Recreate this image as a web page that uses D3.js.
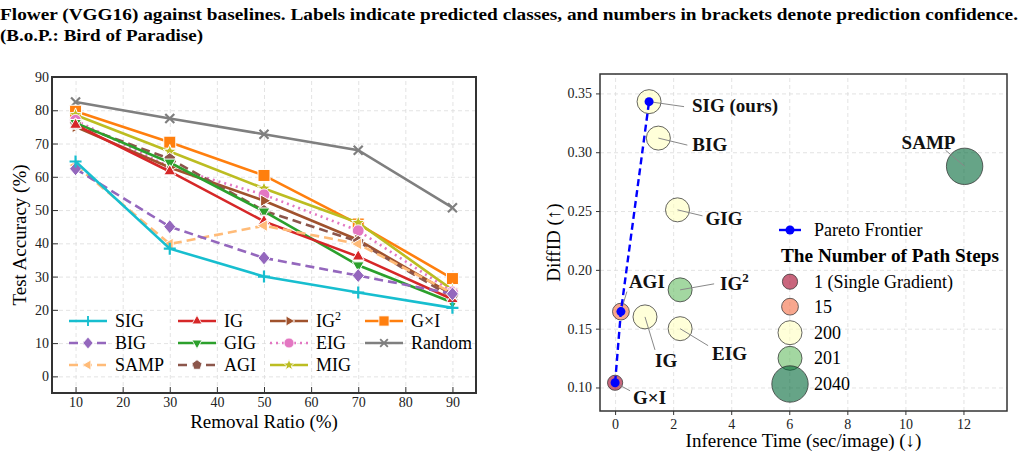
<!DOCTYPE html>
<html>
<head>
<meta charset="utf-8">
<script src="https://cdn.jsdelivr.net/npm/d3@7"></script>
<style>
  body { margin: 0; background: #fff; }
  svg { display: block; font-family: "Liberation Serif", "DejaVu Serif", serif; }
  .grid line { stroke: #dcdcdc; stroke-dasharray: 4,3; stroke-width: 0.8; }
  .grid .domain { display: none; }
  .axis text { font-size: 14px; fill: #222; font-family: "Liberation Serif", serif; }
  .axis .domain { display: none; }
  .axis line { stroke: #333; }
</style>
</head>
<body>
<svg width="1024" height="462"></svg>
<script>
// ---------------- data: left panel (removal ratio vs test accuracy) ----------------
var ratios = [10, 30, 50, 70, 90];
var methods = ["SIG", "BIG", "SAMP", "IG", "GIG", "AGI", "IG²", "EIG", "MIG", "G×I", "Random"];
var accSIG    = [64.6, 38.4, 30.0, 25.2, 20.6];
var accBIG    = [62.4, 45.0, 35.6, 30.3, 24.8];
var accSAMP   = [63.5, 39.8, 45.3, 39.8, 25.0];
var accIG     = [75.6, 61.6, 46.6, 36.0, 23.2];
var accGIG    = [76.2, 64.3, 49.6, 33.4, 22.2];
var accAGI    = [75.8, 65.4, 49.8, 40.5, 23.8];
var accIG2    = [75.0, 62.8, 52.8, 41.0, 24.6];
var accEIG    = [77.0, 62.9, 54.6, 43.8, 25.4];
var accMIG    = [78.6, 67.6, 56.5, 46.2, 26.0];
var accGxI    = [79.7, 70.4, 60.4, 45.8, 29.4];
var accRandom = [82.5, 77.5, 72.8, 68.0, 50.7];
var leftYTicks = [0, 10, 20, 30, 40, 50, 60, 70, 80, 90];
var leftXTicks = [10, 20, 30, 40, 50, 60, 70, 80, 90];

// ---------------- data: right panel (inference time vs DiffID) ----------------
var pointNames = ["SIG (ours)", "BIG", "GIG", "SAMP", "IG²", "AGI", "IG", "EIG", "G×I"];
var inferTime  = [1.17, 1.49, 2.15, 12.04, 2.24, 0.20, 1.03, 2.24, 0.00];
var diffID     = [0.343, 0.312, 0.251, 0.288, 0.183, 0.1645, 0.160, 0.150, 0.104];
var pathSteps  = [200, 200, 200, 2040, 201, 15, 200, 200, 1];
var paretoNames = ["G×I", "AGI", "SIG (ours)"];
var stepLevels = [1, 15, 200, 201, 2040];
var stepLabels = ["1 (Single Gradient)", "15", "200", "201", "2040"];
var rightXTicks = [0, 2, 4, 6, 8, 10, 12];
var rightYTicks = [0.10, 0.15, 0.20, 0.25, 0.30, 0.35];

var svg = d3.select("svg");

// ---------------- caption ----------------
svg.append("text").attr("x", 0).attr("y", 20)
    .attr("font-weight", "bold").attr("font-size", 17)
    .attr("textLength", 1018).attr("lengthAdjust", "spacingAndGlyphs")
    .text("Flower (VGG16) against baselines. Labels indicate predicted classes, and numbers in brackets denote prediction confidence.");
svg.append("text").attr("x", 0).attr("y", 41)
    .attr("font-weight", "bold").attr("font-size", 17)
    .attr("textLength", 203).attr("lengthAdjust", "spacingAndGlyphs")
    .text("(B.o.P.: Bird of Paradise)");

// ---------------- left panel ----------------
var L = {left: 52, top: 77, right: 476, bottom: 393};
var xL = d3.scaleLinear().domain([5, 95]).range([L.left, L.right]);
var yL = d3.scaleLinear().domain([-5, 90]).range([L.bottom, L.top]);
var gL = svg.append("g");

gL.append("g").attr("class", "grid")
    .attr("transform", "translate(0," + L.bottom + ")")
    .call(d3.axisBottom(xL).tickValues(leftXTicks).tickSize(-(L.bottom - L.top)).tickFormat(""));
gL.append("g").attr("class", "grid")
    .attr("transform", "translate(" + L.left + ",0)")
    .call(d3.axisLeft(yL).tickValues(leftYTicks).tickSize(-(L.right - L.left)).tickFormat(""));

// marker shapes
function polyPath(n, r, rot) {
  var pts = [];
  for (var i = 0; i < n; i++) {
    var a = rot + i * 2 * Math.PI / n;
    pts.push([r * Math.cos(a), r * Math.sin(a)]);
  }
  return "M" + pts.map(function (p) { return p[0].toFixed(2) + "," + p[1].toFixed(2); }).join("L") + "Z";
}
function triPath(dir, r) {
  var base = {up: -Math.PI / 2, down: Math.PI / 2, left: Math.PI, right: 0}[dir];
  return polyPath(3, r, base);
}
function starPath(r) {
  var pts = [];
  for (var i = 0; i < 10; i++) {
    var a = -Math.PI / 2 + i * Math.PI / 5, rr = i % 2 ? r * 0.42 : r;
    pts.push([rr * Math.cos(a), rr * Math.sin(a)]);
  }
  return "M" + pts.map(function (p) { return p[0].toFixed(2) + "," + p[1].toFixed(2); }).join("L") + "Z";
}

var styles = {
  "SIG":    {color: "#17becf", dash: null,    marker: "plus"},
  "BIG":    {color: "#9467bd", dash: "9,5",   marker: "diamond"},
  "SAMP":   {color: "#ffbb78", dash: "9,5",   marker: "tleft"},
  "IG":     {color: "#d62728", dash: null,    marker: "tup"},
  "GIG":    {color: "#2ca02c", dash: null,    marker: "tdown"},
  "AGI":    {color: "#8c564b", dash: "9,5",   marker: "pent"},
  "IG²":    {color: "#a0522d", dash: null,    marker: "tright"},
  "EIG":    {color: "#e377c2", dash: "2,4",   marker: "circle"},
  "MIG":    {color: "#bcbd22", dash: null,    marker: "star"},
  "G×I":    {color: "#ff7f0e", dash: null,    marker: "square"},
  "Random": {color: "#7f7f7f", dash: null,    marker: "x"}
};
var seriesVals = {
  "SIG": accSIG, "BIG": accBIG, "SAMP": accSAMP, "IG": accIG, "GIG": accGIG, "AGI": accAGI,
  "IG²": accIG2, "EIG": accEIG, "MIG": accMIG, "G×I": accGxI, "Random": accRandom
};

function drawMarker(g, kind, color, scale) {
  var s = scale || 1;
  if (kind === "plus") {
    g.append("path").attr("d", "M-6,0H6M0,-6V6").attr("transform", "scale(" + s + ")")
        .attr("stroke", color).attr("stroke-width", 2.2).attr("fill", "none");
  } else if (kind === "x") {
    g.append("path").attr("d", "M-4.5,-4.5L4.5,4.5M-4.5,4.5L4.5,-4.5").attr("transform", "scale(" + s + ")")
        .attr("stroke", color).attr("stroke-width", 2.2).attr("fill", "none");
  } else {
    var d;
    if (kind === "diamond") d = "M0,-7L6,0L0,7L-6,0Z";
    else if (kind === "square") d = "M-6,-6H6V6H-6Z";
    else if (kind === "circle") d = polyPath(40, 5.8, 0);
    else if (kind === "pent") d = polyPath(5, 6.2, -Math.PI / 2);
    else if (kind === "star") d = starPath(7);
    else if (kind === "tup") d = triPath("up", 6.8);
    else if (kind === "tdown") d = triPath("down", 6.8);
    else if (kind === "tleft") d = triPath("left", 6.8);
    else if (kind === "tright") d = triPath("right", 6.8);
    g.append("path").attr("d", d).attr("transform", "scale(" + s + ")")
        .attr("fill", color).attr("stroke", "#fff").attr("stroke-width", 1);
  }
}

var line = d3.line()
    .x(function (d, i) { return xL(ratios[i]); })
    .y(function (d) { return yL(d); });

// draw in reverse order so SIG ends up on top
methods.slice().reverse().forEach(function (m) {
  var st = styles[m], vals = seriesVals[m];
  gL.append("path").datum(vals)
      .attr("d", line)
      .attr("fill", "none")
      .attr("stroke", st.color)
      .attr("stroke-width", 2.6)
      .attr("stroke-dasharray", st.dash);
  vals.forEach(function (v, i) {
    var mg = gL.append("g").attr("transform", "translate(" + xL(ratios[i]) + "," + yL(v) + ")");
    drawMarker(mg, st.marker, st.color);
  });
});

// axes with inward ticks
gL.append("g").attr("class", "axis")
    .attr("transform", "translate(0," + L.bottom + ")")
    .call(d3.axisBottom(xL).tickValues(leftXTicks).tickSizeInner(-6).tickSizeOuter(0).tickPadding(4));
gL.append("g").attr("class", "axis")
    .attr("transform", "translate(" + L.left + ",0)")
    .call(d3.axisLeft(yL).tickValues(leftYTicks).tickSizeInner(-6).tickSizeOuter(0).tickPadding(3));
gL.append("rect")
    .attr("x", L.left).attr("y", L.top)
    .attr("width", L.right - L.left).attr("height", L.bottom - L.top)
    .attr("fill", "none").attr("stroke", "#333").attr("stroke-width", 2);

gL.append("text")
    .attr("x", (L.left + L.right) / 2).attr("y", 428)
    .attr("text-anchor", "middle").attr("font-size", 19)
    .text("Removal Ratio (%)");
gL.append("text")
    .attr("transform", "translate(26," + ((L.top + L.bottom) / 2) + ") rotate(-90)")
    .attr("text-anchor", "middle").attr("font-size", 19)
    .text("Test Accuracy (%)");

// legend (3 rows, filled column by column)
var legCols = [69, 178, 270, 365];
var legRows = [321, 343, 365];
methods.forEach(function (m, i) {
  var c = Math.floor(i / 3), r = i % 3;
  var st = styles[m];
  var lg = gL.append("g").attr("transform", "translate(" + legCols[c] + "," + legRows[r] + ")");
  lg.append("line").attr("x1", 0).attr("x2", 38).attr("y1", 0).attr("y2", 0)
      .attr("stroke", st.color).attr("stroke-width", 2.6)
      .attr("stroke-dasharray", st.dash);
  drawMarker(lg.append("g").attr("transform", "translate(19,0)"), st.marker, st.color, 0.85);
  var t = lg.append("text").attr("x", 46).attr("y", 6).attr("font-size", 18);
  if (m === "IG²") {
    t.append("tspan").text("IG");
    t.append("tspan").attr("dy", -7).attr("font-size", 12).text("2");
  } else {
    t.text(m);
  }
});

// ---------------- right panel ----------------
var R = {left: 600, top: 74, right: 1007, bottom: 411};
var xR = d3.scaleLinear().domain([-0.52, 13.5]).range([R.left, R.right]);
var yR = d3.scaleLinear().domain([0.08, 0.3665]).range([R.bottom, R.top]);
var rScale = d3.scaleOrdinal().domain(stepLevels).range([7.6, 8.4, 12, 12, 18.2]);
var cScale = d3.scaleOrdinal().domain(stepLevels).range(["#a50026", "#f46d43", "#ffffbf", "#66bd63", "#006837"]);
var gR = svg.append("g");

gR.append("g").attr("class", "grid")
    .attr("transform", "translate(0," + R.bottom + ")")
    .call(d3.axisBottom(xR).tickValues(rightXTicks).tickSize(-(R.bottom - R.top)).tickFormat(""));
gR.append("g").attr("class", "grid")
    .attr("transform", "translate(" + R.left + ",0)")
    .call(d3.axisLeft(yR).tickValues(rightYTicks).tickSize(-(R.right - R.left)).tickFormat(""));

var pts = pointNames.map(function (n, i) {
  return {name: n, t: inferTime[i], d: diffID[i], steps: pathSteps[i]};
});

// label placement: text offset and leader end offset, in pixels from the point
var labelPos = {
  "SIG (ours)": {tx: 43, ty: 10, lx: 35, ly: 5},
  "BIG":        {tx: 34, ty: 13, lx: 29, ly: 7},
  "GIG":        {tx: 28, ty: 15, lx: 25, ly: 6},
  "SAMP":       {tx: -63, ty: -17, lx: -19, ly: -16},
  "IG²":        {tx: 40, ty: 0, lx: 34, ly: -6},
  "AGI":        {tx: 8, ty: -24, lx: 6, ly: -20},
  "IG":         {tx: 10, ty: 50, lx: 10, ly: 33},
  "EIG":        {tx: 32, ty: 31, lx: 28, ly: 17},
  "G×I":        {tx: 18, ty: 21, lx: 15, ly: 8}
};

pts.forEach(function (p) {
  gR.append("circle")
      .attr("cx", xR(p.t)).attr("cy", yR(p.d)).attr("r", rScale(p.steps))
      .attr("fill", cScale(p.steps)).attr("fill-opacity", 0.6)
      .attr("stroke", "#333").attr("stroke-opacity", 0.75).attr("stroke-width", 1);
});
pts.forEach(function (p) {
  var lp = labelPos[p.name], px = xR(p.t), py = yR(p.d);
  gR.append("line")
      .attr("x1", px).attr("y1", py).attr("x2", px + lp.lx).attr("y2", py + lp.ly)
      .attr("stroke", "#888").attr("stroke-width", 1);
});

// pareto frontier
var paretoPts = paretoNames.map(function (n) { return pts.find(function (p) { return p.name === n; }); });
gR.append("path").datum(paretoPts)
    .attr("d", d3.line().x(function (p) { return xR(p.t); }).y(function (p) { return yR(p.d); }))
    .attr("fill", "none").attr("stroke", "#0000ff").attr("stroke-width", 2.4)
    .attr("stroke-dasharray", "7,4");
paretoPts.forEach(function (p) {
  gR.append("circle").attr("cx", xR(p.t)).attr("cy", yR(p.d)).attr("r", 4.5).attr("fill", "#0000ff");
});

pts.forEach(function (p) {
  var lp = labelPos[p.name], px = xR(p.t), py = yR(p.d);
  var t = gR.append("text")
      .attr("x", px + lp.tx).attr("y", py + lp.ty)
      .attr("font-size", 19).attr("font-weight", "bold").attr("fill", "#111");
  if (p.name === "IG²") {
    t.append("tspan").text("IG");
    t.append("tspan").attr("dy", -8).attr("font-size", 13).text("2");
  } else {
    t.text(p.name);
  }
});

gR.append("g").attr("class", "axis")
    .attr("transform", "translate(0," + R.bottom + ")")
    .call(d3.axisBottom(xR).tickValues(rightXTicks).tickSizeInner(4).tickSizeOuter(0).tickPadding(4));
gR.append("g").attr("class", "axis")
    .attr("transform", "translate(" + R.left + ",0)")
    .call(d3.axisLeft(yR).tickValues(rightYTicks).tickSizeInner(4).tickSizeOuter(0).tickPadding(4)
        .tickFormat(d3.format(".2f")));
gR.append("rect")
    .attr("x", R.left).attr("y", R.top)
    .attr("width", R.right - R.left).attr("height", R.bottom - R.top)
    .attr("fill", "none").attr("stroke", "#333").attr("stroke-width", 1.5);

gR.append("text")
    .attr("x", (R.left + R.right) / 2).attr("y", 447)
    .attr("text-anchor", "middle").attr("font-size", 19)
    .text("Inference Time (sec/image) (↓)");
gR.append("text")
    .attr("transform", "translate(560," + ((R.top + R.bottom) / 2) + ") rotate(-90)")
    .attr("text-anchor", "middle").attr("font-size", 19)
    .text("DiffID (↑)");

// right legend
var lgR = gR.append("g");
lgR.append("line").attr("x1", 779).attr("x2", 801).attr("y1", 230).attr("y2", 230)
    .attr("stroke", "#0000ff").attr("stroke-width", 2.4);
lgR.append("circle").attr("cx", 790).attr("cy", 230).attr("r", 4.5).attr("fill", "#0000ff");
lgR.append("text").attr("x", 814).attr("y", 236).attr("font-size", 18).text("Pareto Frontier");
lgR.append("text").attr("x", 781).attr("y", 262).attr("font-size", 18).attr("font-weight", "bold")
    .attr("textLength", 218).attr("lengthAdjust", "spacingAndGlyphs")
    .text("The Number of Path Steps");
var legY = [281.7, 306.7, 332.7, 358.3, 384];
stepLevels.forEach(function (s, i) {
  lgR.append("circle").attr("cx", 790).attr("cy", legY[i]).attr("r", rScale(s))
      .attr("fill", cScale(s)).attr("fill-opacity", 0.6)
      .attr("stroke", "#333").attr("stroke-opacity", 0.75).attr("stroke-width", 1);
  lgR.append("text").attr("x", 814).attr("y", legY[i] + 6).attr("font-size", 18).text(stepLabels[i]);
});
</script>
</body>
</html>
